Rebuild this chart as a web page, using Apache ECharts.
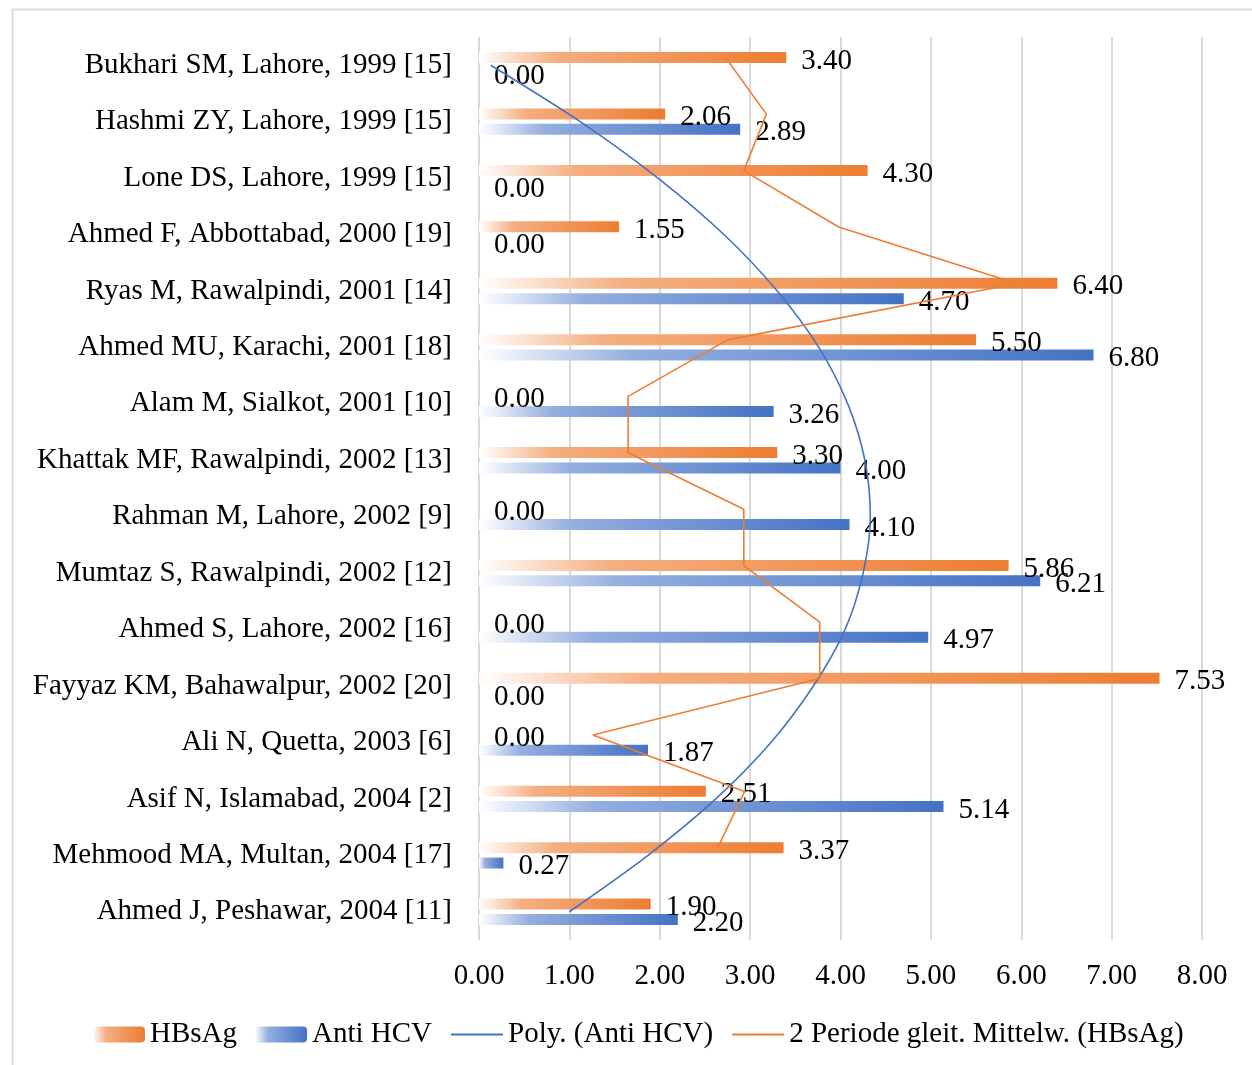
<!DOCTYPE html>
<html>
<head>
<meta charset="utf-8">
<script src="https://cdn.jsdelivr.net/npm/echarts@6/dist/echarts.min.js"></script>
<style>
  html, body { margin: 0; padding: 0; background: #ffffff; }
  #chart { width: 1252px; height: 1065px; }
</style>
</head>
<body>
<div id="chart"></div>
<script>
const categories = [
  'Bukhari SM, Lahore, 1999 [15]',
  'Hashmi ZY, Lahore, 1999 [15]',
  'Lone DS, Lahore, 1999 [15]',
  'Ahmed F, Abbottabad, 2000 [19]',
  'Ryas M, Rawalpindi, 2001 [14]',
  'Ahmed MU, Karachi, 2001 [18]',
  'Alam M, Sialkot, 2001 [10]',
  'Khattak MF, Rawalpindi, 2002 [13]',
  'Rahman M, Lahore, 2002 [9]',
  'Mumtaz S, Rawalpindi, 2002 [12]',
  'Ahmed S, Lahore, 2002 [16]',
  'Fayyaz KM, Bahawalpur, 2002 [20]',
  'Ali N, Quetta, 2003 [6]',
  'Asif N, Islamabad, 2004 [2]',
  'Mehmood MA, Multan, 2004 [17]',
  'Ahmed J, Peshawar, 2004 [11]'
];
const hbsag    = [3.40, 2.06, 4.30, 1.55, 6.40, 5.50, 0.00, 3.30, 0.00, 5.86, 0.00, 7.53, 0.00, 2.51, 3.37, 1.90];
const antiHcv  = [0.00, 2.89, 0.00, 0.00, 4.70, 6.80, 3.26, 4.00, 4.10, 6.21, 4.97, 0.00, 1.87, 5.14, 0.27, 2.20];
// trendline values
const polyAntiHcv = [0.13, 1.12, 1.98, 2.71, 3.30, 3.76, 4.08, 4.27, 4.33, 4.25, 4.05, 3.70, 3.23, 2.62, 1.87, 1.00];
const maHbsag     = [2.73, 3.18, 2.93, 3.98, 5.95, 2.75, 1.65, 1.65, 2.93, 2.93, 3.77, 3.77, 1.26, 2.94, 2.64, null];
const xMin = 0, xMax = 8, xStep = 1;

const FONT = '"Liberation Serif", "Times New Roman", serif';
const FS = 29;
const ORANGE = '#ED7D31', BLUE = '#4472C4';

function grad(light, full) {
  return new echarts.graphic.LinearGradient(0, 0, 1, 0, [
    { offset: 0, color: '#FFFFFF' },
    { offset: 0.25, color: light },
    { offset: 1, color: full }
  ]);
}

const maPoints = [];
maHbsag.forEach((v, i) => { if (v !== null) maPoints.push([v, i]); });

const chart = echarts.init(document.getElementById('chart'), null, { renderer: 'canvas' });
const labelStyle = {
  show: true, position: 'right', distance: 15, offset: [0, 3.5],
  fontFamily: FONT, fontSize: FS, color: '#000000',
  formatter: p => Number(p.value).toFixed(2)
};

chart.setOption({
  animation: false,
  backgroundColor: '#ffffff',
  textStyle: { fontFamily: FONT },
  graphic: [{
    type: 'rect', left: 10, top: 7, z: -10,
    shape: { width: 1300, height: 1100 },
    style: { fill: 'none', stroke: '#d9d9d9', lineWidth: 2 }
  }],
  grid: { left: 479, right: 50, top: 37, bottom: 125, containLabel: false },
  legend: {
    left: 88, top: 1015,
    itemWidth: 52, itemHeight: 16, itemGap: 18,
    textStyle: { fontFamily: FONT, fontSize: FS, color: '#000000' },
    data: [
      { name: 'HBsAg' },
      { name: 'Anti HCV' },
      { name: 'Poly. (Anti HCV)', itemStyle: { opacity: 0 } },
      { name: '2 Periode gleit. Mittelw. (HBsAg)', itemStyle: { opacity: 0 } }
    ]
  },
  xAxis: {
    type: 'value', min: xMin, max: xMax, interval: xStep,
    axisLine: { show: false }, axisTick: { show: false },
    axisLabel: { fontFamily: FONT, fontSize: FS, color: '#000000', margin: 22,
                 formatter: v => v.toFixed(2) },
    splitLine: { show: true, lineStyle: { color: '#d9d9d9', width: 2 } }
  },
  yAxis: [{
    type: 'category', data: categories, inverse: true,
    axisLine: { show: false }, axisTick: { show: false },
    axisLabel: { fontFamily: FONT, fontSize: FS, color: '#000000', margin: 27,
                 padding: [4, 0, 0, 0] }
  }, {
    type: 'value', show: false, inverse: true, min: -0.367, max: 15.633,
    splitLine: { show: false }
  }],
  series: [{
    name: 'HBsAg', type: 'bar', data: hbsag,
    barWidth: 11, barGap: '40%',
    itemStyle: { color: grad('#F4AE80', ORANGE) },
    label: labelStyle, z: 2
  }, {
    name: 'Anti HCV', type: 'bar', data: antiHcv,
    barWidth: 11, barGap: '40%',
    itemStyle: { color: grad('#94AEDF', BLUE) },
    label: labelStyle, z: 2
  }, {
    name: 'Poly. (Anti HCV)', type: 'line', data: polyAntiHcv,
    symbol: 'none', smooth: 0.3,
    lineStyle: { color: BLUE, width: 1.6 }, itemStyle: { color: BLUE }, z: 3
  }, {
    name: '2 Periode gleit. Mittelw. (HBsAg)', type: 'line', data: maPoints,
    yAxisIndex: 1, symbol: 'none',
    lineStyle: { color: ORANGE, width: 1.6 }, itemStyle: { color: ORANGE }, z: 3
  }]
});
</script>
</body>
</html>
